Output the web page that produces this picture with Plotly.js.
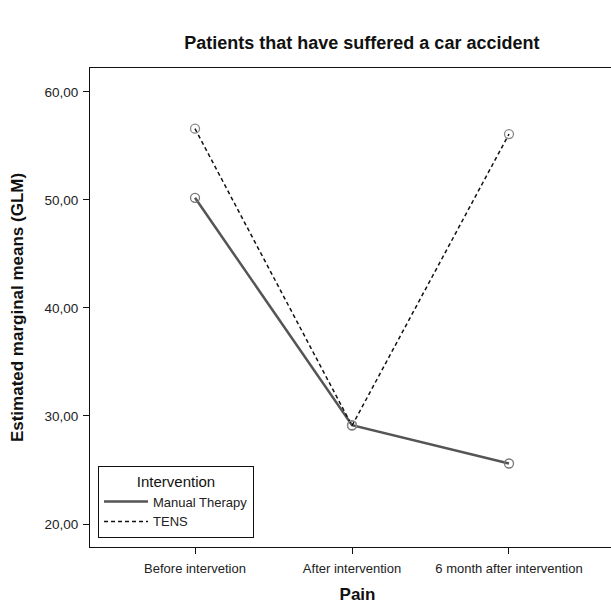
<!DOCTYPE html>
<html><head><meta charset="utf-8">
<script src="https://cdn.plot.ly/plotly-3.0.1.min.js"></script>
<style>html,body{margin:0;background:#fff;overflow:hidden}</style>
</head><body>
<div id="chart" style="width:625px;height:604px"></div>
<script>
const categories = ["Before intervetion", "After intervention", "6 month after intervention"];
const manualTherapy = [50.2, 29.15, 25.6];
const tens = [56.6, 29.1, 56.1];
const seriesNames = ["Manual Therapy", "TENS"];
const yTickVals = [20, 30, 40, 50, 60];
const yTickText = ["20,00", "30,00", "40,00", "50,00", "60,00"];

const xi = categories.map((c, i) => i);
const traces = [
  {x: xi, y: manualTherapy, mode: "lines", name: seriesNames[0],
   line: {color: "#555555", width: 2.5}},
  {x: xi, y: tens, mode: "lines", name: seriesNames[1],
   line: {color: "#111111", width: 1.5, dash: "4px,3px"}},
  {x: xi, y: manualTherapy, mode: "markers", showlegend: false, hoverinfo: "skip",
   marker: {symbol: "circle-open", size: 9, color: "#777777", line: {width: 1.3}}},
  {x: xi, y: tens, mode: "markers", showlegend: false, hoverinfo: "skip",
   marker: {symbol: "circle-open", size: 9, color: "#888888", line: {width: 1.3}}}
];
const layout = {
  width: 625, height: 604,
  margin: {l: 90, r: 0, t: 68, b: 57},
  paper_bgcolor: "#fff", plot_bgcolor: "#fff",
  font: {family: "Liberation Sans, Arial, sans-serif", color: "#222"},
  title: {text: "Patients that have suffered a car accident", x: 0.579, xanchor: "center", y: 0.93, yanchor: "middle",
          font: {size: 18, color: "#111", weight: "bold"}},
  xaxis: {range: [-0.669, 2.739], tickvals: xi, ticktext: categories, showgrid: false, zeroline: false,
          showline: true, linecolor: "#111", linewidth: 1, mirror: true,
          ticks: "outside", ticklen: 6, tickcolor: "#111", tickfont: {size: 13, color: "#222"},
          ticklabelstandoff: 3,
          title: {text: "Pain", font: {size: 17, color: "#111", weight: "bold"}, standoff: 21}},
  yaxis: {range: [17.87, 62.22], tickvals: yTickVals, ticktext: yTickText, showgrid: false, zeroline: false,
          showline: true, linecolor: "#111", linewidth: 1,
          ticks: "outside", ticklen: 6, tickcolor: "#111", tickfont: {size: 13.5, color: "#222"},
          ticklabelstandoff: 2,
          title: {text: "Estimated marginal means (GLM)", font: {size: 17, color: "#111", weight: "bold"}, standoff: 16}},
  showlegend: true,
  legend: {x: 0.015, y: 0.169, xanchor: "left", yanchor: "top", bgcolor: "#fff",
           bordercolor: "#111", borderwidth: 1, font: {size: 13, color: "#222"},
           tracegroupgap: 0, itemwidth: 44,
           title: {text: "Intervention", side: "top center", font: {size: 15, color: "#111"}}}
};
Plotly.newPlot("chart", traces, layout, {displayModeBar: false});
</script>
</body></html>
